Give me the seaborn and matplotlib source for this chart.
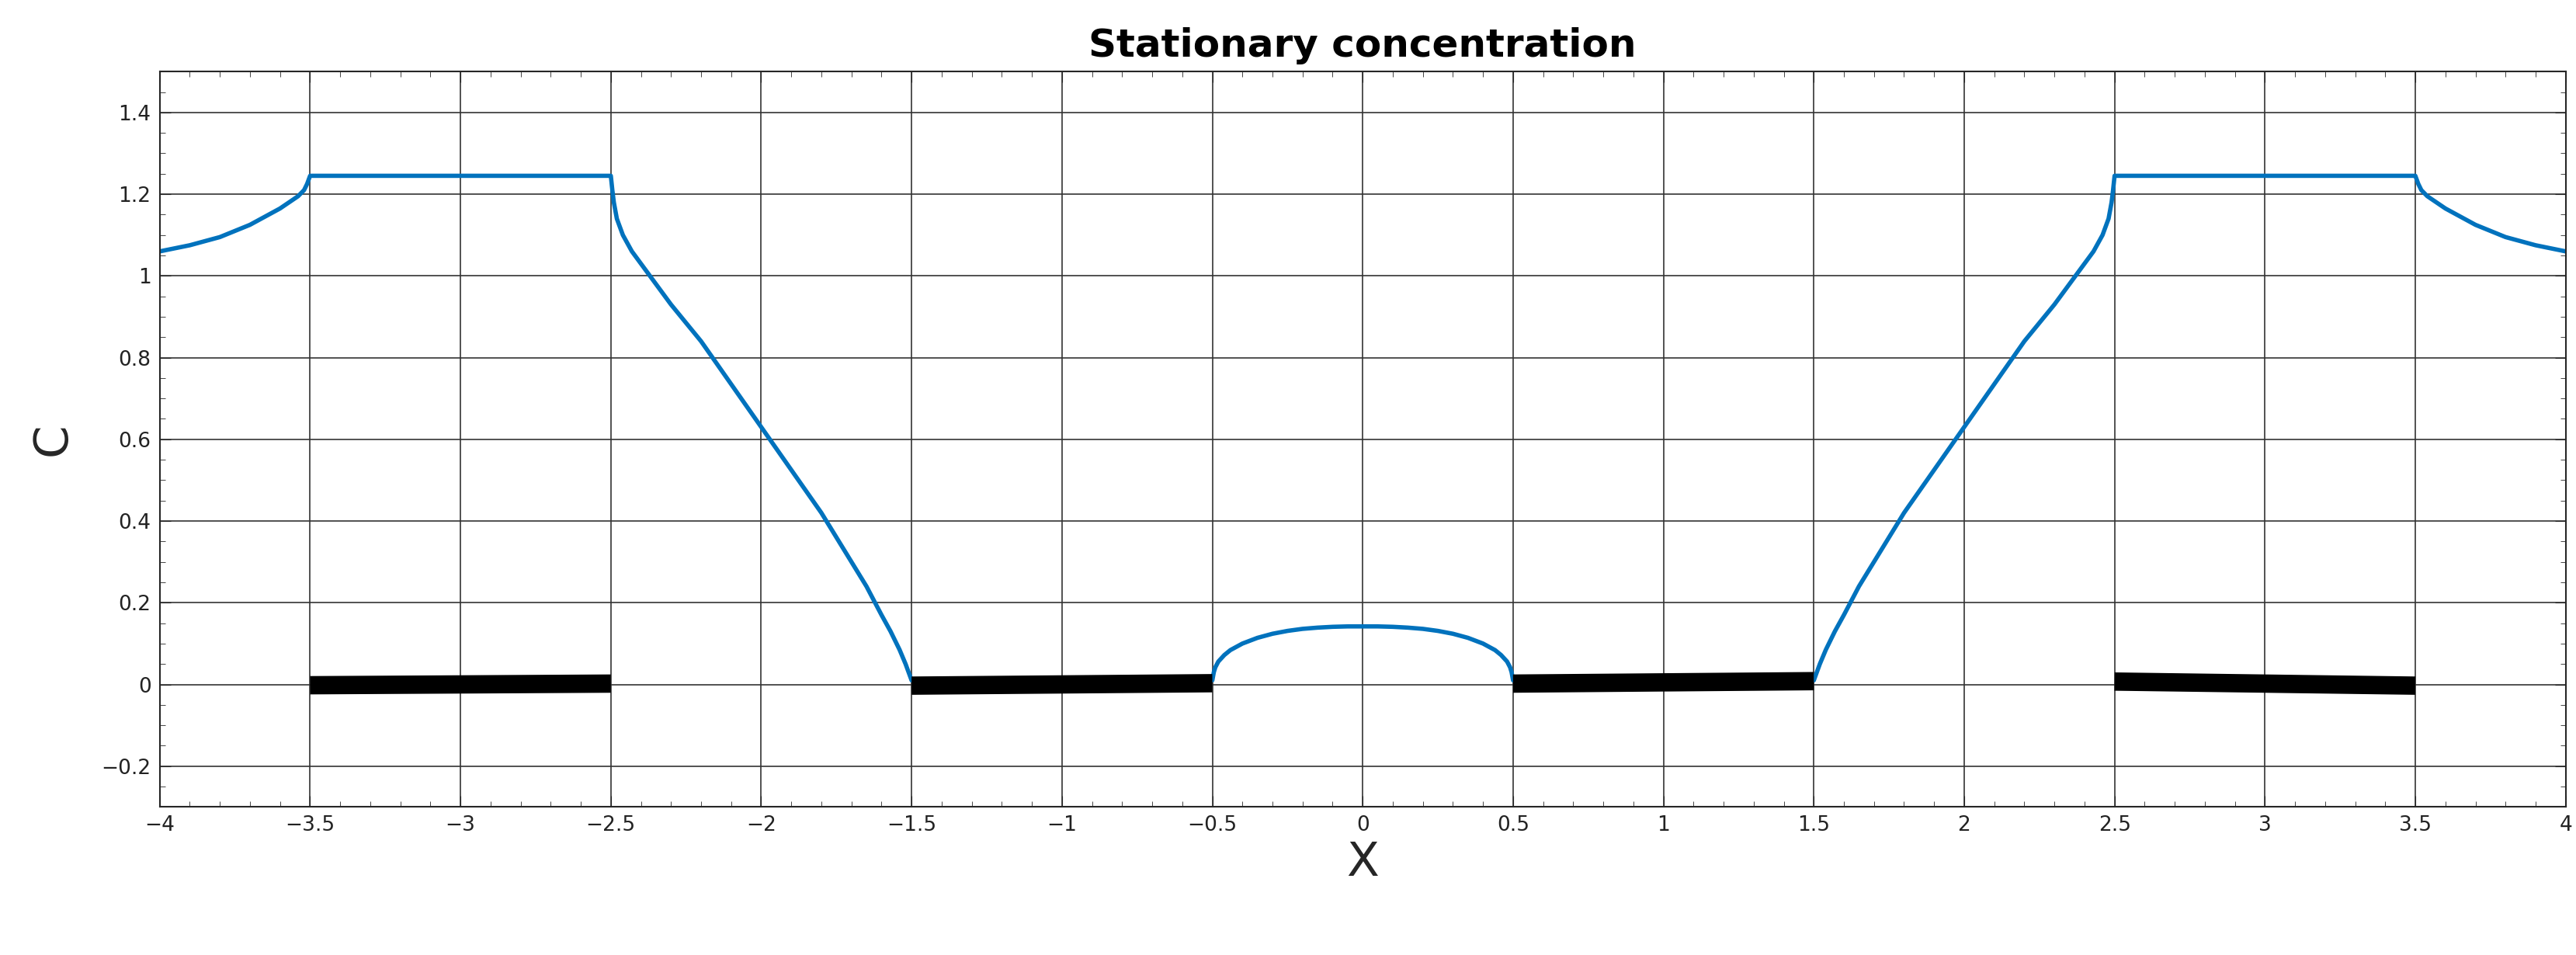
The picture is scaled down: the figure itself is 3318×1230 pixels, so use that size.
import numpy as np
import matplotlib.pyplot as plt
import pandas as pd
import seaborn as sns

# concentration curve (left half, mirrored for the right)
x_left = [-4.0, -3.9, -3.8, -3.7, -3.65, -3.6, -3.57, -3.54, -3.52, -3.51, -3.5, -2.5, -2.495, -2.49,
          -2.48, -2.46, -2.43, -2.4, -2.35, -2.3, -2.25, -2.2, -2.1, -2.0, -1.9, -1.8, -1.75, -1.7,
          -1.65, -1.6, -1.57, -1.54, -1.52, -1.51, -1.5]
c_left = [1.06, 1.075, 1.095, 1.125, 1.145, 1.165, 1.18, 1.195, 1.21, 1.225, 1.245, 1.245, 1.21, 1.18,
          1.14, 1.10, 1.06, 1.03, 0.98, 0.93, 0.885, 0.84, 0.735, 0.63, 0.525, 0.42, 0.36, 0.30,
          0.24, 0.17, 0.13, 0.085, 0.05, 0.03, 0.01]
x_mid = [-1.5, -0.5, -0.495, -0.49, -0.48, -0.46, -0.44, -0.4, -0.35, -0.3, -0.25, -0.2, -0.15, -0.1, -0.05, 0.0]
c_mid = [0.01, 0.01, 0.03, 0.042, 0.056, 0.072, 0.084, 0.10, 0.114, 0.124, 0.131, 0.136, 0.139, 0.141, 0.142, 0.142]

# black bars (start x, end x, start y, end y)
bar_x0 = [-3.5, -1.5, 0.5, 2.5]
bar_x1 = [-2.5, -0.5, 1.5, 3.5]
bar_y0 = [-0.002, -0.003, 0.002, 0.007]
bar_y1 = [0.002, 0.003, 0.008, -0.003]

xs = x_left + x_mid
cs = c_left + c_mid
x_full = xs + [-v for v in reversed(xs[:-1])]
c_full = cs + list(reversed(cs[:-1]))
df = pd.DataFrame({"x": x_full, "C": c_full})

sns.set_style("ticks")
plt.rcParams['font.family'] = ['DejaVu Sans']
fig, ax = plt.subplots(figsize=(33.18, 12.3), dpi=100)
fig.subplots_adjust(left=0.062, right=0.996, top=0.925, bottom=0.155)

sns.lineplot(data=df, x="x", y="C", sort=False, estimator=None, color="#0072bd",
             linewidth=4, ax=ax)
for a, b, p, q in zip(bar_x0, bar_x1, bar_y0, bar_y1):
    ax.plot([a, b], [p, q], color="black", linewidth=17, solid_capstyle="butt")

ax.set_xlim(-4, 4)
ax.set_ylim(-0.3, 1.5)
ax.set_xticks(np.arange(-4, 4.01, 0.5))
ax.set_xticklabels(["\u22124", "\u22123.5", "\u22123", "\u22122.5", "\u22122", "\u22121.5", "\u22121",
                    "\u22120.5", "0", "0.5", "1", "1.5", "2", "2.5", "3", "3.5", "4"])
ax.set_yticks(np.arange(-0.2, 1.41, 0.2))
ax.set_yticklabels(["\u22120.2", "0", "0.2", "0.4", "0.6", "0.8", "1", "1.2", "1.4"])
ax.minorticks_on()
ax.xaxis.set_minor_locator(plt.MultipleLocator(0.1))
ax.yaxis.set_minor_locator(plt.MultipleLocator(0.05))
ax.tick_params(which="both", direction="in", top=True, right=True)
ax.tick_params(which="major", length=10, labelsize=19, colors="#222222", pad=8)
ax.tick_params(which="minor", length=5)
ax.grid(True, which="major", color="#333333", linewidth=1.2)
for s in ax.spines.values():
    s.set_linewidth(1.5)
ax.set_title("Stationary concentration", fontsize=36, fontweight="bold", pad=14, color="black")
ax.set_xlabel("X", fontsize=44, labelpad=4)
ax.set_ylabel("C", fontsize=44, labelpad=24)
fig.savefig("out.png", dpi=100)
